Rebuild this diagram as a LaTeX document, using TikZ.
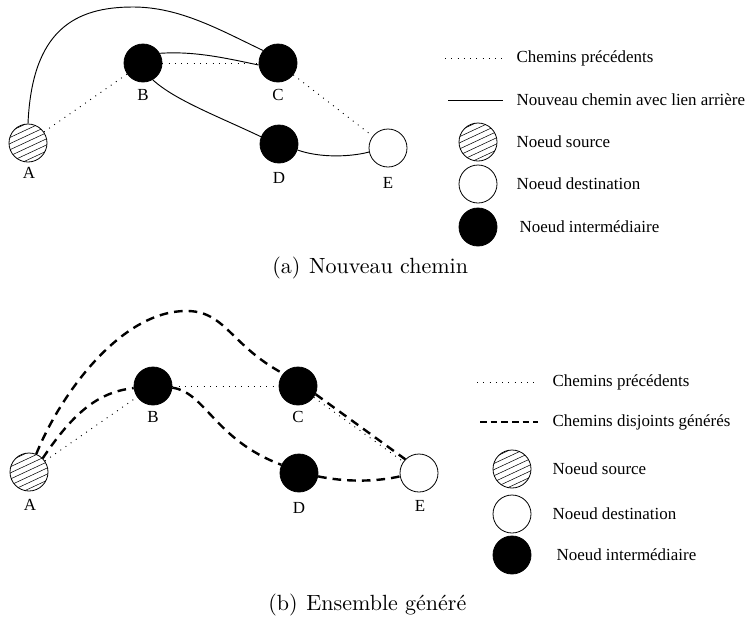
\documentclass[tikz,border=0pt]{standalone}
\usepackage{fontspec}
\newfontfamily\lblfont{Liberation Serif}
\newfontfamily\capfont{lmroman10-regular.otf}
\usetikzlibrary{calc}

\tikzset{
    lbl/.style={font=\lblfont\fontsize{12.7}{15}\selectfont, inner sep=1pt},
    captext/.style={font=\capfont\fontsize{16.5}{19}\selectfont, inner sep=0pt, anchor=west},
    vertex/.style={circle, draw, line width=0.6pt, minimum size=28.5pt, inner sep=0pt},
    source/.style={vertex, fill=white, path picture={
        \foreach \k in {-5,...,5}
            \draw[line width=0.4pt] ($(path picture bounding box.center)+(-22pt,\k*4.6pt-9pt)$) -- ++(25:50pt);}},
    dest/.style={vertex, fill=white},
    inter/.style={vertex, fill=black},
    oldpath/.style={line width=0.7pt, dash pattern=on 0.7pt off 4pt},
    newpath/.style={line width=0.7pt},
    disjpath/.style={line width=1.8pt, dash pattern=on 6.5pt off 4.5pt},
}

\begin{document}
\begin{tikzpicture}[x=0.75pt, y=-0.75pt]
    \useasboundingbox (0,0) rectangle (746,629);

    % (a) new path
    \node[source] (A1) at (28,143) {};
    \node[inter] (B1) at (143,63) {};
    \node[inter] (C1) at (278,63) {};
    \node[inter] (D1) at (279,144) {};
    \node[dest] (E1) at (388,148) {};
    \node[lbl] at (29,173) {A};
    \node[lbl] at (143,95) {B};
    \node[lbl] at (278,95) {C};
    \node[lbl] at (279,178) {D};
    \node[lbl] at (388,183) {E};
    \draw[oldpath] (A1) -- (B1);
    \draw[oldpath] (B1) -- (C1);
    \draw[oldpath] (C1) -- (E1);
    \draw[newpath] (A1.north) .. controls (32,30) and (75,7) .. (133,7) .. controls (180,7) and (220,30) .. (C1.140);
    \draw[newpath] (B1.30) .. controls (195,51) and (225,58) .. (C1.186);
    \draw[newpath] (B1.-60) .. controls (175,100) and (215,115) .. (D1.158);
    \draw[newpath] (D1.-18) .. controls (320,158) and (350,157) .. (E1.192);

    % legend (a)
    \draw[oldpath] (445,58) coordinate (la1) -- (505,58) coordinate (la2);
    \draw[newpath] (448,100) coordinate (lb1) -- (503,100) coordinate (lb2);
    \node[lbl, anchor=west] (ta1) at (515,58) {Chemins précédents};
    \node[lbl, anchor=west] (ta2) at (515,100) {Nouveau chemin avec lien arrière};
    \node[source] (sa) at (478,142) {};
    \node[dest] (da) at (478,184) {};
    \node[inter] (ia) at (478,227) {};
    \node[lbl, anchor=west] (ta3) at (515,142) {Noeud source};
    \node[lbl, anchor=west] (ta4) at (515,184) {Noeud destination};
    \node[lbl, anchor=west] (ta5) at (518,227) {Noeud intermédiaire};

    \node[captext] (capa) at (272,268) {(a)\hspace{0.4em}Nouveau chemin};

    % (b) generated set
    \begin{scope}[every node/.append style={minimum size=30pt}]
    \node[source] (A2) at (29,472) {};
    \node[inter] (B2) at (153,386) {};
    \node[inter] (C2) at (298,386) {};
    \node[inter] (D2) at (299,473) {};
    \node[dest] (E2) at (419,473) {};
    \end{scope}
    \node[lbl] at (30,505) {A};
    \node[lbl] at (153,417) {B};
    \node[lbl] at (298,417) {C};
    \node[lbl] at (299,508) {D};
    \node[lbl] at (420,506) {E};
    \draw[oldpath] (A2) -- (B2);
    \draw[oldpath] (B2) -- (C2);
    \draw[oldpath] (C2) -- (E2);
    \draw[disjpath] (A2.68) .. controls (60,395) and (120,312) .. (185,311) .. controls (225,310) and (230,345) .. (C2.140);
    \draw[disjpath] (A2.45) .. controls (75,410) and (100,392) .. (B2.186);
    \draw[disjpath] (B2.-5) .. controls (205,392) and (215,440) .. (D2.155);
    \draw[disjpath] (D2.-10) .. controls (345,482) and (375,482) .. (E2.190);
    \draw[disjpath] (C2.-25) -- (E2.135);

    % legend (b)
    \draw[oldpath] (477,382) coordinate (lc1) -- (538,382) coordinate (lc2);
    \draw[disjpath, dash pattern=on 5pt off 3pt] (480,422) coordinate (ld1) -- (538,422) coordinate (ld2);
    \node[lbl, anchor=west] (tb1) at (551,382) {Chemins précédents};
    \node[lbl, anchor=west] (tb2) at (551,422) {Chemins disjoints générés};
    \node[source] (sb) at (512,469) {};
    \node[dest] (db) at (512,514) {};
    \node[inter] (ib) at (512,555) {};
    \node[lbl, anchor=west] (tb3) at (551,469) {Noeud source};
    \node[lbl, anchor=west] (tb4) at (551,514) {Noeud destination};
    \node[lbl, anchor=west] (tb5) at (555,555) {Noeud intermédiaire};

    \node[captext] (capb) at (268,605) {(b)\hspace{0.4em}Ensemble généré};
\end{tikzpicture}
\end{document}
